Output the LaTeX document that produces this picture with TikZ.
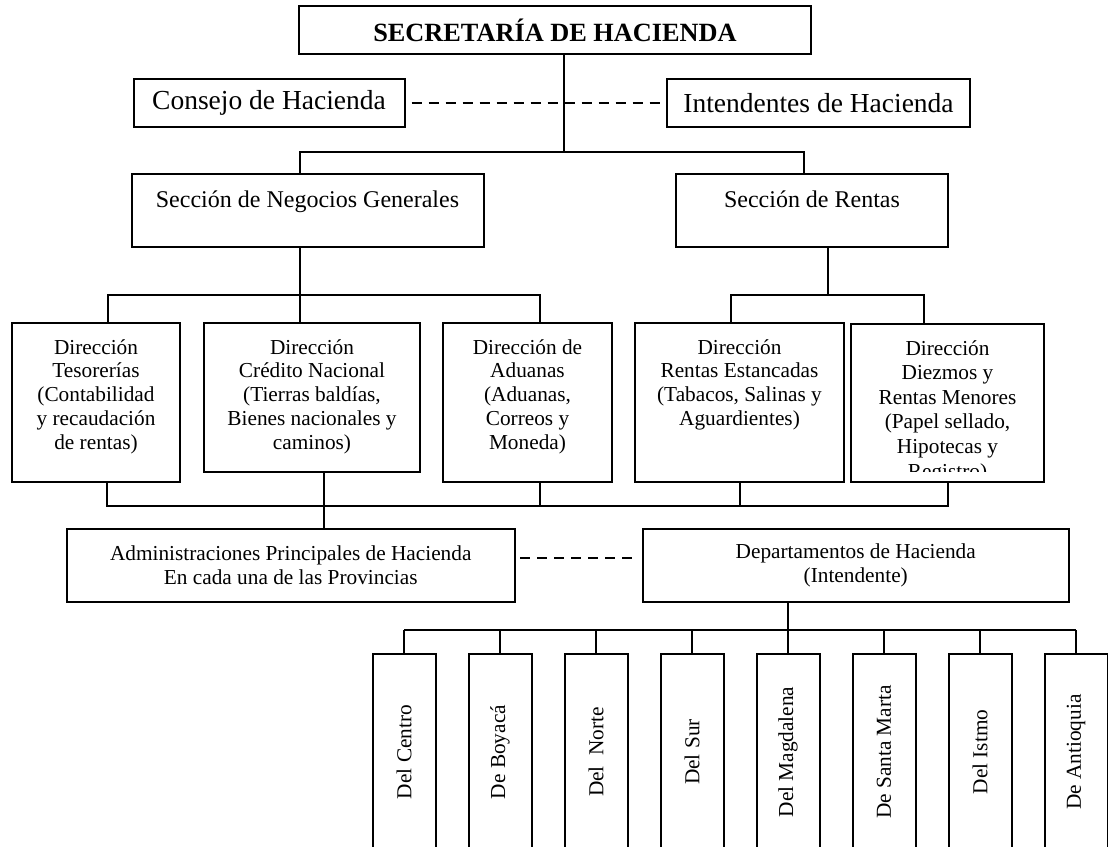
\documentclass[tikz,border=0pt]{standalone}
\usepackage{fontspec}
\setmainfont{Liberation Serif}
\usetikzlibrary{calc}

\newcommand{\topfill}[4]{\parbox[c][#2][t]{#1}{\centering\rule{0pt}{#3}#4}}

\begin{document}
\begin{tikzpicture}[x=1pt, y=-1pt, line width=2pt,
  box/.style={draw, rectangle, inner sep=0pt},
  dashline/.style={dash pattern=on 10pt off 7pt},
  dirfont/.style={font=\fontsize{21.3}{23.75}\selectfont},
  prov/.style={box, rotate=90, minimum width=196pt, minimum height=63pt, font=\fontsize{21.3}{24}\selectfont}]
\useasboundingbox (0,0) rectangle (1108,846);

\node[box, minimum width=512pt, minimum height=48pt, font=\fontsize{26.3}{30}\selectfont\bfseries] (sec) at (555,30) {SECRETARÍA DE HACIENDA};
\node[box, minimum width=271pt, minimum height=48pt, font=\fontsize{27.5}{30}\selectfont] (consejo) at (269,103) {Consejo de Hacienda};
\node[box, minimum width=303pt, minimum height=48pt, font=\fontsize{27.5}{30}\selectfont] (intend) at (818.5,103) {Intendentes de Hacienda};
\draw[dashline] ($(consejo.east)+(6,0)$) -- ($(intend.west)+(-5,0)$);

\node[box, font=\fontsize{24}{27}\selectfont] (neg) at (307.5,210.5) {\topfill{352pt}{73pt}{33pt}{Sección de Negocios Generales}};
\node[box, font=\fontsize{24}{27}\selectfont] (ren) at (812,210.5) {\topfill{272pt}{73pt}{33pt}{Sección de Rentas}};

\draw ($(sec.south)+(9,0)$) -- ++(0,96.5) coordinate (top);
\draw ($(neg.north)+(-7.5,0)$) |- (top) -| ($(ren.north)+(-8,0)$);

\node[box, dirfont] (tes) at (96,402.5) {\topfill{168pt}{159pt}{31pt}{Dirección\\Tesorerías\\(Contabilidad\\y recaudación\\de rentas)}};
\node[box, dirfont] (cred) at (312,397.5) {\topfill{216pt}{149pt}{31pt}{Dirección\\Crédito Nacional\\(Tierras baldías,\\Bienes nacionales y\\caminos)}};
\node[box, dirfont] (adu) at (527.5,402.5) {\topfill{169pt}{159pt}{31pt}{Dirección de\\Aduanas\\(Aduanas,\\Correos y\\Moneda)}};
\node[box, dirfont] (est) at (739.5,402.5) {\topfill{209pt}{159pt}{31pt}{Dirección\\Rentas Estancadas\\(Tabacos, Salinas y\\Aguardientes)}};
\node[box, minimum width=193pt, minimum height=158pt] (diez) at (947.5,403) {};
\begin{scope}
\clip (diez.north west) rectangle ($(diez.south east)+(0,-12)$);
\node[inner sep=0pt, anchor=north, font=\fontsize{21.3}{24.6}\selectfont] (dieztext) at (diez.north) {\topfill{193pt}{158pt}{31pt}{Dirección\\Diezmos y\\Rentas Menores\\(Papel sellado,\\Hipotecas y\\Registro)}};
\end{scope}

\draw ($(neg.south)+(-7.5,0)$) -- ++(0,47) coordinate (negsplit);
\draw ($(tes.north)+(12,0)$) |- (negsplit) -| ($(adu.north)+(12.5,0)$);
\draw (negsplit) -- ($(cred.north)+(-12,0)$);
\draw ($(ren.south)+(16,0)$) -- ++(0,47) coordinate (rensplit);
\draw ($(est.north)+(-8.5,0)$) |- (rensplit) -| ($(diez.north)+(-23.5,0)$);

\node[box, align=center, minimum width=447.5pt, minimum height=73pt, font=\fontsize{21.3}{24}\selectfont] (adm) at (290.75,565.5) {Administraciones Principales de Hacienda\\En cada una de las Provincias};
\node[box, align=center, minimum width=425.5pt, minimum height=73pt, font=\fontsize{21.3}{24}\selectfont] (dep) at (855.75,565.5) {Departamentos de Hacienda\\(Intendente)};
\draw[dashline] ($(adm.east)+(4.5,-7.5)$) -- ($(dep.west)+(-7,-7.5)$);

\draw ($(tes.south)+(11,0)$) |- ($(diez.south)+(0,23)$) -- (diez.south);
\draw ($(adu.south)+(12.5,0)$) -- ++(0,23);
\draw (est.south) -- ++(0,23);
\draw ($(cred.south)+(12,0)$) -- ($(adm.north)+(33.25,0)$);

\foreach \name [count=\i] in {Del Centro, De Boyacá, Del\ \ Norte, Del Sur, Del Magdalena, De Santa Marta, Del Istmo, De Antioquia}
\node[prov] (b\i) at ({404+96*(\i-1)},752) {\name};

\draw ($(b1.east)+(0,-23)$) -- ($(b8.east)+(0,-23)$);
\foreach \i in {1,...,8}
\draw (b\i.east) -- ++(0,-23);
\draw (dep.south -| b5.east) -- (b5.east);

\end{tikzpicture}
\end{document}
